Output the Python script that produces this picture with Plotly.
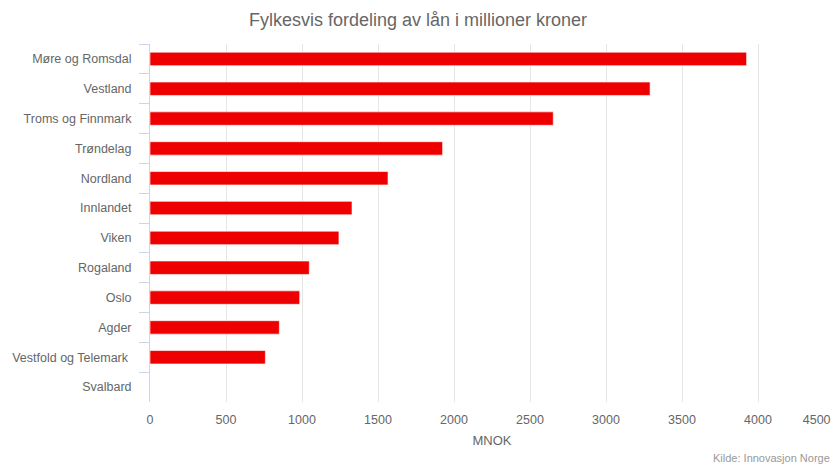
import plotly.graph_objects as go

categories = ["Møre og Romsdal", "Vestland", "Troms og Finnmark", "Trøndelag", "Nordland",
              "Innlandet", "Viken", "Rogaland", "Oslo", "Agder", "Vestfold og Telemark\u00a0", "Svalbard"]
values = [3925, 3290, 2653, 1925, 1566, 1329, 1243, 1048, 985, 851, 759, 0]
x_tick_vals = [0, 500, 1000, 1500, 2000, 2500, 3000, 3500, 4000, 4500]
x_tick_text = ["0", "500", "1000", "1500", "2000", "2500", "3000", "3500", "4000",
               "4500" + "\u00a0" * 10]

FONT = "Liberation Sans, Arial, sans-serif"

fig = go.Figure(go.Bar(
    x=values, y=categories, orientation="h",
    marker=dict(color="#ee0000", line=dict(color="#ffffff", width=0.6)),
    width=0.45,
))

fig.update_layout(
    width=836, height=464,
    margin=dict(l=150, r=2, t=44, b=62, autoexpand=False),
    paper_bgcolor="white", plot_bgcolor="white",
    showlegend=False,
    font=dict(family=FONT, color="#666666", size=12),
    title=dict(text="Fylkesvis fordeling av lån i millioner kroner",
               x=0.5, xanchor="center", y=0.957, yanchor="middle",
               font=dict(family=FONT, size=18, color="#666666")),
    xaxis=dict(range=[0, 4500], tickvals=x_tick_vals, ticktext=x_tick_text,
               automargin=False, ticklabeloverflow="allow", ticklabelstandoff=8,
               showgrid=True, gridcolor="#e6e6e6", gridwidth=1,
               zeroline=False, showline=False, ticks="",
               tickfont=dict(size=12.5, color="#666666"),
               title=dict(text="MNOK", font=dict(size=13, color="#666666"), standoff=10)),
    yaxis=dict(categoryorder="array", categoryarray=categories, autorange="reversed",
               automargin=False, ticklabelstandoff=15,
               tickson="boundaries", ticks="outside", ticklen=10, tickcolor="#ccd6eb",
               showline=True, linecolor="#ccd6eb", linewidth=1,
               showgrid=False, zeroline=False,
               tickfont=dict(size=12.5, color="#666666")),
    annotations=[dict(text="Kilde: Innovasjon Norge", xref="paper", yref="paper",
                      x=0.997, y=-0.156, xanchor="right", yanchor="middle", showarrow=False,
                      font=dict(size=11, color="#999999", family=FONT))],
)

fig.write_html("out.html", config={"displayModeBar": False},
               post_script="document.body.style.margin='0';")
